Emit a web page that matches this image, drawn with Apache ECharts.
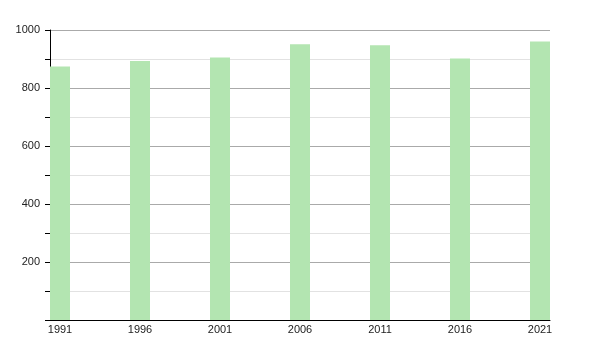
<!DOCTYPE html>
<html><head><meta charset="utf-8">
<script src="https://cdn.jsdelivr.net/npm/echarts@6/dist/echarts.min.js"></script>
<style>html,body{margin:0;padding:0;background:#fff}#c{width:600px;height:350px}</style>
</head><body><div id="c"></div>
<script>
const years = [1991, 1996, 2001, 2006, 2011, 2016, 2021];
const values = [874, 893, 905, 951, 947, 902, 960];
const yTickLabels = [200, 400, 600, 800, 1000];

const chart = echarts.init(document.getElementById('c'), null, {renderer: 'canvas'});
chart.setOption({
  animation: false,
  backgroundColor: '#fff',
  grid: {left: 50, right: 50, top: 30, bottom: 30, containLabel: false},
  xAxis: {
    type: 'value', min: 1990.375, max: 2021.625,
    axisLine: {show: true, lineStyle: {color: '#000', width: 1}},
    axisTick: {show: false},
    splitLine: {show: false},
    axisLabel: {customValues: years, color: '#222', fontSize: 11, fontFamily: 'Liberation Sans, Arial, sans-serif', margin: 4, formatter: v => String(v)}
  },
  yAxis: {
    type: 'value', min: 0, max: 1000, interval: 100,
    axisLine: {show: true, lineStyle: {color: '#000', width: 1}},
    axisTick: {show: true, length: 5, lineStyle: {color: '#000'}},
    splitLine: {show: true, lineStyle: {color: ['#aaa', '#e2e2e2'], width: 1}},
    axisLabel: {color: '#222', fontSize: 11, fontFamily: 'Liberation Sans, Arial, sans-serif', margin: 10,
      formatter: v => yTickLabels.indexOf(v) >= 0 ? String(v) : ''}
  },
  series: [{
    type: 'bar', barWidth: 20,
    itemStyle: {color: '#b3e5b1'},
    data: years.map((y, i) => [y, values[i]])
  }]
});
</script></body></html>
